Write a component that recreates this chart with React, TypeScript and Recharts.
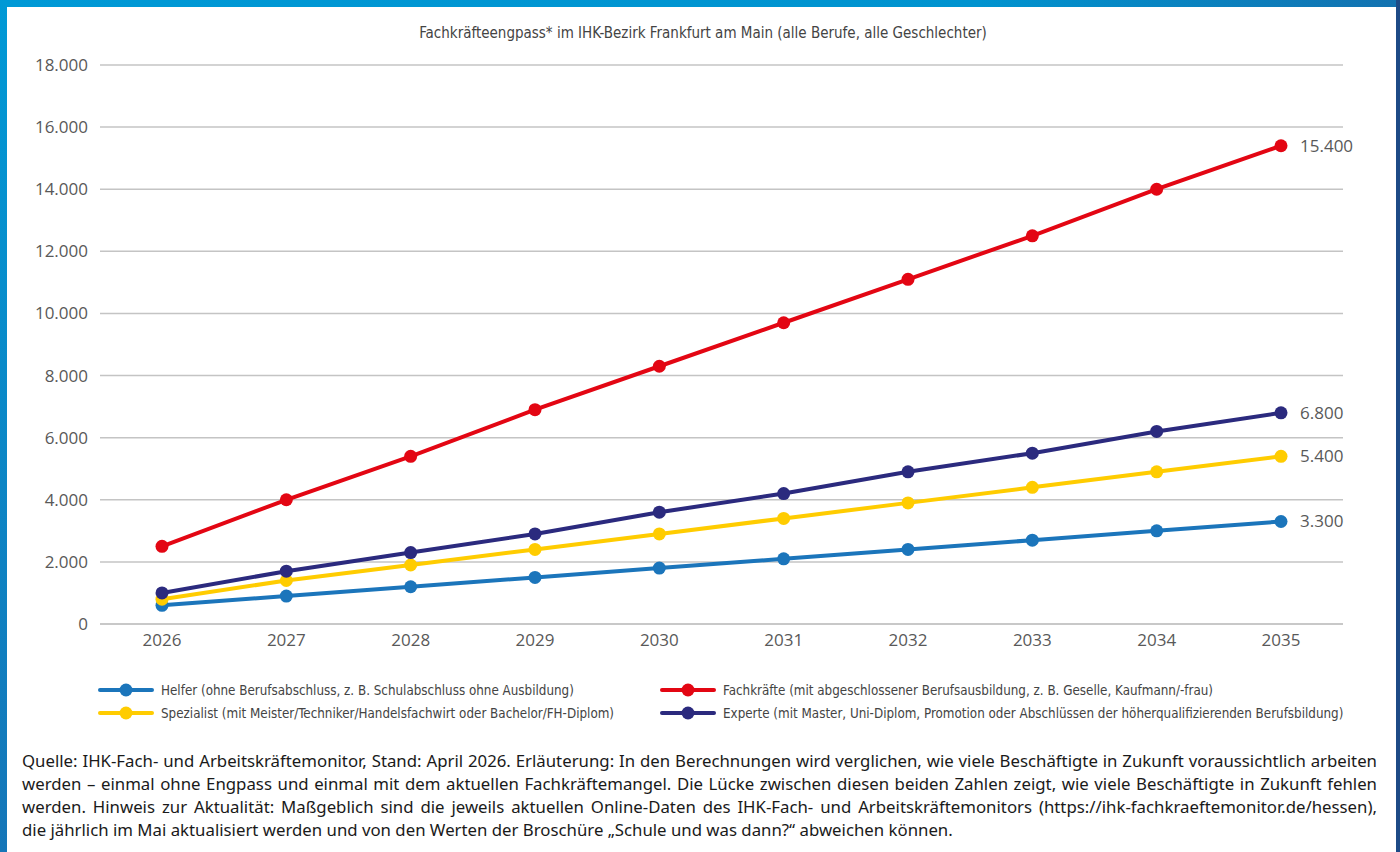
import React from 'react';
import { LineChart, Line, XAxis, YAxis, CartesianGrid, LabelList } from 'recharts';

// Jahre und Fachkräfteengpass je Anforderungsniveau
const years = ['2026', '2027', '2028', '2029', '2030', '2031', '2032', '2033', '2034', '2035'];
const helfer = [600, 900, 1200, 1500, 1800, 2100, 2400, 2700, 3000, 3300];
const spezialist = [800, 1400, 1900, 2400, 2900, 3400, 3900, 4400, 4900, 5400];
const experte = [1000, 1700, 2300, 2900, 3600, 4200, 4900, 5500, 6200, 6800];
const fachkraefte = [2500, 4000, 5400, 6900, 8300, 9700, 11100, 12500, 14000, 15400];
const yTicks = [0, 2000, 4000, 6000, 8000, 10000, 12000, 14000, 16000, 18000];

const data = years.map((year, i) => ({
  year,
  helfer: helfer[i],
  spezialist: spezialist[i],
  experte: experte[i],
  fachkraefte: fachkraefte[i],
}));

const series = [
  { key: 'helfer', color: '#1b75bb', label: 'Helfer (ohne Berufsabschluss, z. B. Schulabschluss ohne Ausbildung)' },
  { key: 'spezialist', color: '#ffcc00', label: 'Spezialist (mit Meister/Techniker/Handelsfachwirt oder Bachelor/FH-Diplom)' },
  { key: 'experte', color: '#2b2a7e', label: 'Experte (mit Master, Uni-Diplom, Promotion oder Abschlüssen der höherqualifizierenden Berufsbildung)' },
  { key: 'fachkraefte', color: '#e30613', label: 'Fachkräfte (mit abgeschlossener Berufsausbildung, z. B. Geselle, Kaufmann/-frau)' },
];

// Reihenfolge der Legende: zwei Spalten
const legendOrder = ['helfer', 'fachkraefte', 'spezialist', 'experte'];

const footnoteLines = [
  'Quelle: IHK-Fach- und Arbeitskräftemonitor, Stand: April 2026. Erläuterung: In den Berechnungen wird verglichen, wie viele Beschäftigte in Zukunft voraussichtlich arbeiten',
  'werden – einmal ohne Engpass und einmal mit dem aktuellen Fachkräftemangel. Die Lücke zwischen diesen beiden Zahlen zeigt, wie viele Beschäftigte in Zukunft fehlen',
  'werden. Hinweis zur Aktualität: Maßgeblich sind die jeweils aktuellen Online-Daten des IHK-Fach- und Arbeitskräftemonitors (https://ihk-fachkraeftemonitor.de/hessen),',
  'die jährlich im Mai aktualisiert werden und von den Werten der Broschüre „Schule und was dann?“ abweichen können.',
];

const fmt = (v: number) => String(v).replace(/\B(?=(\d{3})+(?!\d))/g, '.');

const narrow = '"Liberation Sans Narrow", "DejaVu Sans Condensed", sans-serif';
const axisFont = '"Open Sans", sans-serif';

function EndLabel(props: any) {
  const { x, y, value, index } = props;
  if (index !== years.length - 1) return null;
  return (
    <text x={x + 19} y={y} dy="0.35em" fontSize={17} fill="#595959" fontFamily={axisFont}>
      {fmt(value)}
    </text>
  );
}

function LegendIcon({ color }: { color: string }) {
  return (
    <svg width={56} height={14} style={{ display: 'block' }}>
      <line x1={2} y1={7} x2={54} y2={7} stroke={color} strokeWidth={4} strokeLinecap="round" />
      <circle cx={28} cy={7} r={6.5} fill={color} />
    </svg>
  );
}

export default function App() {
  return (
    <div style={{ position: 'absolute', left: 0, top: 0, width: 1400, height: 852, background: '#fff', overflow: 'hidden' }}>
      {/* Rahmen */}
      <div style={{ position: 'absolute', left: 0, top: 0, width: 1400, height: 7, background: 'linear-gradient(90deg, #0099d6, #0093cf 70%, #1372b0)' }} />
      <div style={{ position: 'absolute', left: 0, top: 0, width: 7, height: 852, background: 'linear-gradient(180deg, #0099d6, #1576b8)' }} />
      <div style={{ position: 'absolute', left: 1396, top: 0, width: 4, height: 852, background: '#1d4a86' }} />

      <div
        style={{
          position: 'absolute',
          left: 0,
          top: 24,
          width: 1406,
          textAlign: 'center',
          fontFamily: narrow,
          fontSize: 15,
          color: '#444',
        }}
      >
        Fachkräfteengpass* im IHK-Bezirk Frankfurt am Main (alle Berufe, alle Geschlechter)
      </div>

      <div style={{ position: 'absolute', left: 0, top: 0 }}>
        <LineChart width={1400} height={660} data={data} margin={{ top: 65, right: 57, left: 10, bottom: 6 }}>
          <CartesianGrid vertical={false} stroke="#c4c4c4" strokeWidth={1.5} />
          <XAxis
            dataKey="year"
            height={30}
            padding={{ left: 62, right: 62 }}
            axisLine={{ stroke: '#c4c4c4', strokeWidth: 1.5 }}
            tickLine={false}
            tickMargin={4}
            tick={{ fontSize: 17, fill: '#595959', fontFamily: axisFont }}
          />
          <YAxis
            width={90}
            domain={[0, 18000]}
            ticks={yTicks}
            interval={0}
            axisLine={false}
            tickLine={false}
            tickMargin={6}
            tickFormatter={fmt}
            tick={{ fontSize: 17, fill: '#595959', fontFamily: axisFont }}
          />
          {series.map((s) => (
            <Line
              key={s.key}
              type="linear"
              dataKey={s.key}
              stroke={s.color}
              strokeWidth={4}
              dot={{ r: 6.5, fill: s.color, stroke: 'none' }}
              activeDot={false}
              isAnimationActive={false}
            >
              <LabelList dataKey={s.key} content={EndLabel} />
            </Line>
          ))}
        </LineChart>
      </div>

      {/* Legende */}
      <div
        style={{
          position: 'absolute',
          left: 98,
          top: 681,
          display: 'grid',
          gridTemplateColumns: '562px auto',
          rowGap: 5,
          fontFamily: narrow,
          fontSize: 13.3,
          color: '#444',
        }}
      >
        {legendOrder.map((k) => {
          const s = series.find((x) => x.key === k)!;
          return (
            <div key={k} style={{ display: 'flex', alignItems: 'center', height: 18 }}>
              <LegendIcon color={s.color} />
              <span style={{ marginLeft: 7, whiteSpace: 'nowrap' }}>{s.label}</span>
            </div>
          );
        })}
      </div>

      {/* Fußnote */}
      <div
        style={{
          position: 'absolute',
          left: 22,
          top: 749,
          width: 1355,
          fontFamily: '"Noto Sans", sans-serif',
          fontSize: 16.8,
          lineHeight: '23px',
          color: '#1a1a1a',
        }}
      >
        {footnoteLines.map((line, i) => (
          <div key={i} style={{ textAlign: 'justify', textAlignLast: i < footnoteLines.length - 1 ? 'justify' : 'left' }}>
            {line}
          </div>
        ))}
      </div>
    </div>
  );
}
